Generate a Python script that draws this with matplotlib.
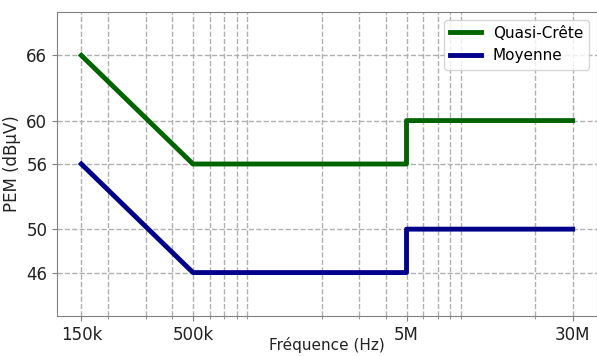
import matplotlib
matplotlib.use("Agg")
import matplotlib.pyplot as plt
from matplotlib.ticker import NullFormatter, LogLocator

plt.rcParams["font.family"] = ["DejaVu Sans"]

freq = [150e3, 500e3, 5e6, 5e6, 30e6]
quasi_crete = [66, 56, 56, 60, 60]
moyenne = [56, 46, 46, 50, 50]
xtick_vals = [150e3, 500e3, 5e6, 30e6]
xtick_labels = ["150k", "500k", "5M", "30M"]
ytick_vals = [46, 50, 56, 60, 66]

fig = plt.figure(figsize=(5.97, 3.56), dpi=100)
ax = fig.add_axes([57/597, 1-316/356, 540/597, 304/356])

ax.plot(freq, quasi_crete, color="#006400", lw=3.5, label="Quasi-Crête")
ax.plot(freq, moyenne, color="#00008B", lw=3.5, label="Moyenne")

ax.set_xscale("log")
ax.set_xlim(150e3/1.3, 30e6*1.3)
ax.set_ylim(42, 70)
ax.set_xticks(xtick_vals, xtick_labels)
ax.xaxis.set_minor_locator(LogLocator(base=10, subs=range(2, 10)))
ax.xaxis.set_minor_formatter(NullFormatter())
ax.set_yticks(ytick_vals)
ax.tick_params(labelsize=12, colors="#808080", labelcolor="#222222")
ax.tick_params(which="minor", colors="#808080")

ax.grid(True, which="both", linestyle="--", color="#b0b0b0", linewidth=1)
for s in ax.spines.values():
    s.set_color("#808080")

ax.set_xlabel("Fréquence (Hz)", fontsize=11, color="#222222")
ax.xaxis.set_label_coords(0.5, -(337 - 316) / 304)
ax.set_ylabel("PEM (dBµV)", fontsize=12, color="#222222")
ax.legend(loc="upper right", fontsize=11)

fig.savefig("out.png", dpi=100)
